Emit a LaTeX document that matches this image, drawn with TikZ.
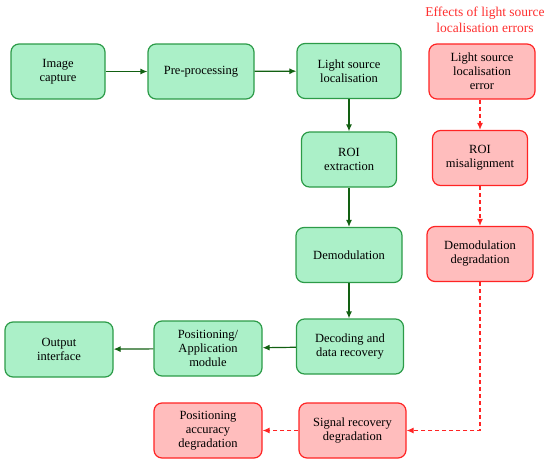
\documentclass[tikz,border=0pt]{standalone}
\usepackage{fontspec}
\setmainfont{Liberation Serif}
\usetikzlibrary{arrows.meta}
\definecolor{gfill}{RGB}{171,240,200}
\definecolor{gdraw}{RGB}{44,155,72}
\definecolor{garrow}{RGB}{18,96,18}
\definecolor{rfill}{RGB}{255,189,189}
\definecolor{rdraw}{RGB}{255,36,36}
\definecolor{rtext}{RGB}{255,48,48}
\tikzset{
  gbox/.style={draw=gdraw, fill=gfill, line width=1.2pt, rounded corners=8pt,
    minimum height=55pt, align=center, inner sep=0pt, font=\fontsize{12.5}{14}\selectfont},
  rbox/.style={draw=rdraw, fill=rfill, line width=1.2pt, rounded corners=8pt,
    minimum height=55pt, align=center, inner sep=0pt, font=\fontsize{12.5}{14}\selectfont},
  garr/.style={draw=garrow, line width=1.2pt, -{Latex[length=7pt,width=6pt]}},
  rarr/.style={draw=rdraw, line width=1.2pt, dash pattern=on 4pt off 3pt, -{Latex[length=7pt,width=6pt]}},
}
\begin{document}
\begin{tikzpicture}[x=1pt,y=-1pt]
\useasboundingbox (0,0) rectangle (550,464);
% green chain
\node[gbox, minimum width=94pt]  (cap)   at (58,71.5)  {Image\\capture};
\node[gbox, minimum width=106pt] (pre)   at (201,71.5) {Pre-processing};
\node[gbox, minimum width=104pt] (lsl)   at (349,71)   {Light source\\localisation};
\node[gbox, minimum width=95pt]  (roi)   at (349,159.5){ROI\\extraction};
\node[gbox, minimum width=106pt] (dem)   at (349,255)  {Demodulation};
\node[gbox, minimum width=107pt] (dec)   at (350,346.5){Decoding and\\data recovery};
\node[gbox, minimum width=108pt] (pos)   at (208,348.5){Positioning/\\Application\\module};
\node[gbox, minimum width=108pt] (out)   at (59,349.5) {Output\\interface};
% red chain
\node[font=\fontsize{13.5}{16}\selectfont, text=rtext, align=center] (title) at (485,20)
  {Effects of light source\\localisation errors};
\node[rbox, minimum width=106pt] (err)   at (482,71.5) {Light source\\localisation\\error};
\node[rbox, minimum width=95pt]  (mis)   at (480,158)  {ROI\\misalignment};
\node[rbox, minimum width=106pt] (dd)    at (480,254)  {Demodulation\\degradation};
\node[rbox, minimum width=107pt] (sig)   at (352.5,430.5){Signal recovery\\degradation};
\node[rbox, minimum width=108pt] (acc)   at (208,430.5){Positioning\\accuracy\\degradation};
% green arrows
\draw[garr] (cap) -- (pre);
\draw[garr] (pre) -- (lsl);
\draw[garr] (lsl) -- (roi);
\draw[garr] (roi) -- (dem);
\draw[garr] (dem) -- (dec.north -| dem);
\draw[garr] (dec) -- (pos);
\draw[garr] (pos) -- (out);
% red arrows
\draw[rarr] (err.south -| mis) -- (mis);
\draw[rarr] (mis) -- (dd);
\draw[rarr] (dd.south) |- (sig.east);
\draw[rarr] (sig) -- (acc);
\end{tikzpicture}
\end{document}
